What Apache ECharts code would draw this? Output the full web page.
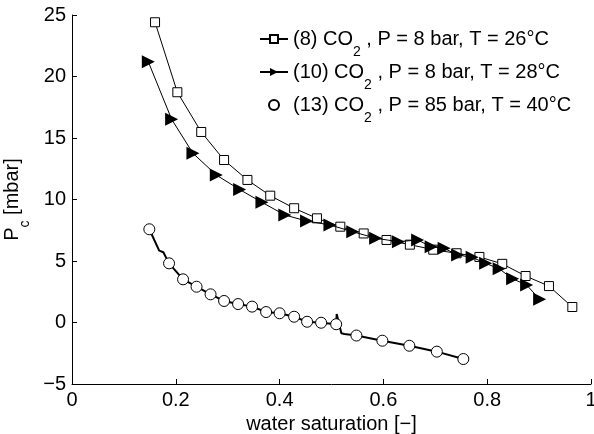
<!DOCTYPE html>
<html>
<head>
<meta charset="utf-8">
<script src="https://cdn.jsdelivr.net/npm/echarts@6/dist/echarts.min.js"></script>
<style>
  html, body { margin: 0; padding: 0; background: #fff; }
  #chart { width: 594px; height: 434px; }
</style>
</head>
<body>
<div id="chart"></div>
<script>
// (8) CO2, P = 8 bar, T = 26°C
const sqX = [0.160, 0.203, 0.249, 0.293, 0.338, 0.382, 0.428, 0.472, 0.517, 0.562, 0.606, 0.651, 0.696, 0.741, 0.785, 0.829, 0.874, 0.919, 0.964];
const sqY = [24.41, 18.72, 15.49, 13.21, 11.59, 10.31, 9.29, 8.47, 7.79, 7.24, 6.71, 6.33, 5.92, 5.63, 5.33, 4.77, 3.78, 2.96, 1.26];

// (10) CO2, P = 8 bar, T = 28°C
const triX = [0.147, 0.192, 0.233, 0.278, 0.323, 0.366, 0.410, 0.452, 0.497, 0.541, 0.585, 0.629, 0.666, 0.692, 0.717, 0.743, 0.771, 0.797, 0.823, 0.849, 0.876, 0.901];
const triY = [21.20, 16.52, 13.76, 11.99, 10.81, 9.77, 8.74, 8.25, 7.93, 7.38, 6.85, 6.57, 6.71, 6.16, 6.03, 5.49, 5.30, 4.81, 4.37, 3.55, 3.05, 1.89];

// (13) CO2, P = 85 bar, T = 40°C  (markers)
const circX = [0.149, 0.187, 0.214, 0.240, 0.267, 0.293, 0.320, 0.347, 0.374, 0.400, 0.428, 0.453, 0.480, 0.509, 0.548, 0.598, 0.650, 0.703, 0.754];
const circY = [7.58, 4.81, 3.51, 2.91, 2.29, 1.75, 1.50, 1.29, 0.85, 0.75, 0.47, 0.06, -0.02, -0.14, -1.06, -1.48, -1.89, -2.37, -2.97];

// measured curve behind the circles
const curveX = [0.149, 0.168, 0.176, 0.187, 0.214, 0.240, 0.267, 0.293, 0.320, 0.347, 0.374, 0.400, 0.428, 0.453, 0.480, 0.509, 0.510, 0.519, 0.525, 0.548, 0.598, 0.650, 0.703, 0.754];
const curveY = [7.58, 5.84, 5.71, 4.81, 3.51, 2.91, 2.29, 1.75, 1.50, 1.29, 0.85, 0.75, 0.47, 0.06, -0.02, -0.14, 0.69, -0.88, -0.93, -1.06, -1.48, -1.89, -2.37, -2.97];

const seriesNames = [
  "(8) CO{sub|2} , P = 8 bar, T = 26°C",
  "(10) CO{sub|2} , P = 8 bar, T = 28°C",
  "(13) CO{sub|2} , P = 85 bar, T = 40°C",
];

const zip = (xs, ys) => xs.map((x, i) => [x, ys[i]]);
const font = "Liberation Sans, Arial, Helvetica, sans-serif";
const subStyle = { fontSize: 14, fontFamily: font, color: "#000", verticalAlign: "bottom", lineHeight: 14, padding: [0, 0, -8, 0] };

const myChart = echarts.init(document.getElementById("chart"), null, { renderer: "canvas" });

const options = {
  animation: false,
  backgroundColor: "#fff",
  grid: { left: 72, right: 3, top: 15, bottom: 50, outerBoundsMode: "none", containLabel: false },
  legend: {
    orient: "vertical",
    left: 254,
    top: 22,
    itemWidth: 28,
    itemHeight: 10,
    itemGap: 1,
    data: seriesNames,
    textStyle: {
      fontSize: 20,
      fontFamily: font,
      color: "#000",
      lineHeight: 24,
      rich: { sub: subStyle },
    },
  },
  xAxis: {
    type: "value",
    min: 0,
    max: 1,
    interval: 0.2,
    name: "water saturation [\u2212]",
    nameLocation: "middle",
    nameGap: 13,
    nameTextStyle: { fontSize: 20, fontFamily: font, color: "#000" },
    axisLine: { onZero: false, lineStyle: { color: "#000", width: 1 } },
    axisTick: { inside: true, length: 5, lineStyle: { color: "#000" } },
    axisLabel: { fontSize: 20, fontFamily: font, color: "#000", margin: 6 },
    splitLine: { show: false },
  },
  yAxis: {
    type: "value",
    min: -5,
    max: 25,
    interval: 5,
    name: "P{sub|c} [mbar]",
    nameLocation: "middle",
    nameRotate: 90,
    nameGap: 40,
    nameTextStyle: {
      fontSize: 20,
      fontFamily: font,
      color: "#000",
      lineHeight: 24,
      rich: { sub: subStyle },
    },
    axisLine: { show: true, onZero: false, lineStyle: { color: "#000", width: 1 } },
    axisTick: { show: true, inside: true, length: 5, lineStyle: { color: "#000" } },
    axisLabel: {
      fontSize: 20,
      fontFamily: font,
      color: "#000",
      margin: 6,
      formatter: (v) => String(v).replace("-", "\u2212"),
    },
    splitLine: { show: false },
  },
  series: [
    {
      name: seriesNames[0],
      type: "line",
      data: zip(sqX, sqY),
      symbol: "rect",
      symbolSize: 9,
      showAllSymbol: true,
      lineStyle: { color: "#000", width: 1 },
      itemStyle: { color: "#fff", borderColor: "#000", borderWidth: 1 },
      z: 3,
    },
    {
      name: seriesNames[1],
      type: "line",
      data: zip(triX, triY),
      symbol: "triangle",
      symbolRotate: -90,
      symbolSize: 13,
      showAllSymbol: true,
      lineStyle: { color: "#000", width: 1 },
      itemStyle: { color: "#000" },
      z: 4,
    },
    {
      name: "curve13",
      type: "line",
      data: zip(curveX, curveY),
      symbol: "none",
      lineStyle: { color: "#000", width: 2 },
      z: 2,
    },
    {
      name: seriesNames[2],
      type: "scatter",
      data: zip(circX, circY),
      symbol: "circle",
      symbolSize: 11,
      itemStyle: { color: "#fff", borderColor: "#000", borderWidth: 1, opacity: 1 },
      z: 5,
    },
  ],
};

myChart.setOption(options);
</script>
</body>
</html>
